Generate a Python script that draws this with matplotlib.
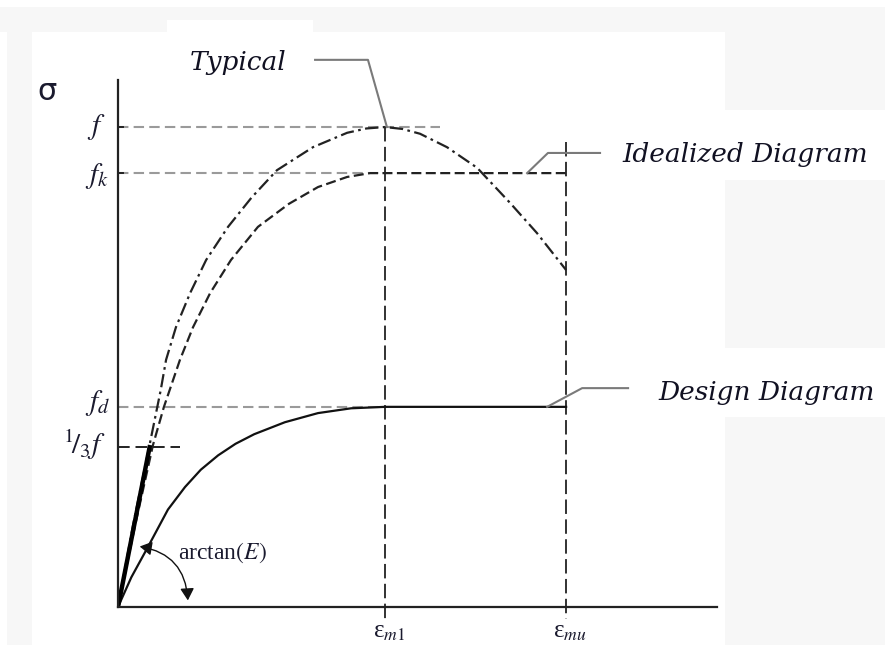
import matplotlib
matplotlib.use('Agg')
import matplotlib.pyplot as plt
from matplotlib.patches import Rectangle, FancyArrowPatch

plt.rcParams['mathtext.fontset'] = 'stix'
plt.rcParams['font.family'] = ['Liberation Serif', 'DejaVu Serif']

# 特征值 (归一化: f = 1, eps_m1 = 1)
f_levels = {'f': 1.0, 'fk': 0.904, 'fd': 0.417, 'f3': 0.333}
eps_m1 = 1.0
eps_mu = 1.678

# Typical 曲线
typ_x = [0.0, 0.056, 0.118, 0.160, 0.180, 0.217, 0.270, 0.330, 0.412, 0.500, 0.595,
         0.730, 0.858, 0.930, 1.0, 1.065, 1.131, 1.232, 1.345, 1.468, 1.569, 1.678]
typ_y = [0.0, 0.170, 0.337, 0.452, 0.515, 0.583, 0.654, 0.723, 0.792, 0.853, 0.910,
         0.958, 0.988, 0.997, 1.0, 0.996, 0.986, 0.958, 0.915, 0.842, 0.779, 0.702]

# Idealized 曲线
ide_x = [0.0, 0.064, 0.131, 0.172, 0.232, 0.281, 0.345, 0.423, 0.524, 0.640, 0.749,
         0.858, 0.944, 1.0, 1.678]
ide_y = [0.0, 0.170, 0.3375, 0.417, 0.515, 0.583, 0.654, 0.723, 0.792, 0.840, 0.875,
         0.896, 0.904, 0.904, 0.904]

# Design 曲线
des_x = [0.0, 0.05, 0.112, 0.187, 0.251, 0.310, 0.375, 0.440, 0.510, 0.625, 0.749,
         0.873, 1.0, 1.678]
des_y = [0.0, 0.062, 0.125, 0.203, 0.250, 0.286, 0.316, 0.340, 0.360, 0.385, 0.404,
         0.414, 0.417, 0.417]

# 割线 arctan(E)
sec_x = [0.0, 0.120]
sec_y = [0.0, 0.3375]

W, H = 885, 645
fig = plt.figure(figsize=(W / 100, H / 100), dpi=100)
fig.patch.set_facecolor('white')

# 截图背景的浅灰区域
grey = '#f7f7f7'
for (x0, y0, x1, y1) in [(0, 7, 167, 32), (313, 7, 885, 32), (167, 7, 313, 20),
                         (7, 32, 32, 645), (725, 32, 885, 110),
                         (725, 180, 885, 348), (725, 417, 885, 645)]:
    fig.add_artist(Rectangle((x0 / W, 1 - y1 / H), (x1 - x0) / W, (y1 - y0) / H,
                             transform=fig.transFigure, facecolor=grey,
                             edgecolor='none', zorder=0))

ax = fig.add_axes([118 / W, (H - 607) / H, (717 - 118) / W, (607 - 80) / H])
ax.patch.set_visible(False)
ax.set_xlim(0, 2.243)
ax.set_ylim(0, 1.098)
for s in ['top', 'right']:
    ax.spines[s].set_visible(False)
for s in ['left', 'bottom']:
    ax.spines[s].set_linewidth(1.6)
    ax.spines[s].set_color('#222222')
ax.set_xticks([])
ax.set_yticks([])

grey_line = dict(color='#9a9a9a', lw=1.5, dashes=(5, 2.5))
ax.plot([0, 1.206], [f_levels['f']] * 2, **grey_line)
ax.plot([0, eps_m1], [f_levels['fk']] * 2, **grey_line)
ax.plot([0, eps_m1], [f_levels['fd']] * 2, **grey_line)
ax.plot([0, 0.232], [f_levels['f3']] * 2, color='#222222', lw=1.4, dashes=(6, 3))

# y 轴小刻度
for lv in [f_levels['f'], f_levels['fk']]:
    ax.plot([0, 0.02], [lv, lv], color='#222222', lw=1.4)

# 竖直虚线
ax.plot([eps_m1, eps_m1], [f_levels['f'], -0.025], color='#222222', lw=1.3,
        dashes=(8, 3), clip_on=False)
ax.plot([eps_mu, eps_mu], [0.969, -0.025], color='#222222', lw=1.3,
        dashes=(8, 3), clip_on=False)

# 曲线
ax.plot(typ_x, typ_y, color='#222222', lw=1.6, dashes=(6, 2, 1.2, 2))
ax.plot(ide_x, ide_y, color='#222222', lw=1.6, dashes=(4.5, 2))
ax.plot(des_x, des_y, color='#111111', lw=1.6)
ax.plot(sec_x, sec_y, color='black', lw=3.2, solid_capstyle='butt')

# arctan(E) 弧形箭头
arc = FancyArrowPatch((0.071, 0.127), (0.262, 0.008),
                      connectionstyle='arc3,rad=-0.42',
                      arrowstyle='<|-|>,head_length=4.5,head_width=2.6',
                      color='#111111', lw=1.0, mutation_scale=1.6)
ax.add_patch(arc)
ax.text(0.225, 0.112, r'arctan$(E)$', fontsize=17, color='#1a1a2e',
        ha='left', va='center')

# 引线
lead = dict(color='#7a7a7a', lw=1.5, clip_on=False)
ax.plot([0.738, 0.936, 1.007], [1.140, 1.140, 1.0], **lead)
ax.plot([1.805, 1.610, 1.532], [0.946, 0.946, 0.904], **lead)
ax.plot([1.910, 1.738, 1.607], [0.456, 0.456, 0.417], **lead)

label_font = dict(fontsize=19, style='italic', family=['DejaVu Serif'],
                  color='#111122', va='baseline', ha='left')
ax.text(0.270, 1.119, 'Typical', **label_font)
ax.text(1.888, 0.927, 'Idealized Diagram', **label_font)
ax.text(2.022, 0.431, 'Design Diagram', **label_font)

# y 轴标签
ylab = dict(textcoords='offset points', ha='right', va='center', fontsize=21,
            color='#1a1a2e', annotation_clip=False)
ax.annotate(r'$f$', (0, f_levels['f']), xytext=(-9, 0), **ylab)
ax.annotate(r'$f_k$', (0, f_levels['fk']), xytext=(-7, -2), **ylab)
ax.annotate(r'$f_d$', (0, f_levels['fd']), xytext=(-6, 3), **ylab)
ax.annotate(r'$^{1}\!/_{3}f$', (0, f_levels['f3']), xytext=(-9, 2), **ylab)
ax.annotate('σ', (0, 1.098), xytext=(-58, -8), textcoords='offset points',
            ha='left', va='center', fontsize=22, family=['DejaVu Sans'],
            color='#1a1a2e', annotation_clip=False)

# x 轴标签
xlab = dict(textcoords='offset points', ha='center', va='top', fontsize=18,
            color='#1a1a2e', annotation_clip=False)
ax.annotate(r'ε$_{m1}$', (eps_m1, 0), xytext=(3, -10), **xlab)
ax.annotate(r'ε$_{mu}$', (eps_mu, 0), xytext=(3, -10), **xlab)

fig.savefig('out.png', dpi=100, facecolor='white')
